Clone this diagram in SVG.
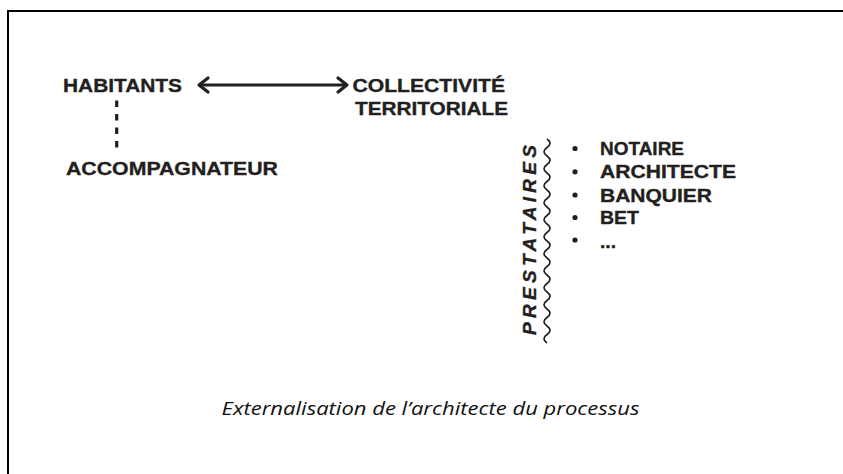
<svg xmlns="http://www.w3.org/2000/svg" width="843" height="474" viewBox="0 0 843 474">
<style>
.b{font-family:"Liberation Sans",Arial,Helvetica,sans-serif;font-weight:bold;font-size:19px;fill:#231f20;stroke:#231f20;stroke-width:0.35}
.cap{font-family:"Open Sans","Noto Sans","Liberation Sans",sans-serif;font-style:italic;font-size:18px;fill:#111}
.ln{stroke:#231f20;fill:none}
</style>
<rect width="843" height="474" fill="#fff"/>
<g id="frame"><path d="M8,474 V11 H843" fill="none" stroke="#000" stroke-width="2"/></g>
<g id="connectors">
<line class="ln" x1="200" y1="85" x2="346" y2="85" stroke-width="3"/>
<polyline class="ln" points="208,78 199,85 208,92" stroke-width="3.2" stroke-linecap="round" stroke-linejoin="round"/>
<polyline class="ln" points="338,78 347,85 338,92" stroke-width="3.2" stroke-linecap="round" stroke-linejoin="round"/>
<line class="ln" x1="116.7" y1="100.5" x2="116.7" y2="153" stroke-width="3.2" stroke-dasharray="6.5 7"/>
<path class="ln" stroke-width="1.7" d="M547,139 q6,4.25 0,8.5 t0,8.5 t0,8.5 t0,8.5 t0,8.5 t0,8.5 t0,8.5 t0,8.5 t0,8.5 t0,8.5 t0,8.5 t0,8.5 t0,8.5 t0,8.5 t0,8.5 t0,8.5 t0,8.5 t0,8.5 t0,8.5 t0,8.5 t0,8.5 t0,8.5 t0,8.5 t0,8.5"/>
</g>
<g id="habitants"><text class="b" x="63" y="91.5" textLength="119" lengthAdjust="spacingAndGlyphs">HABITANTS</text></g>
<g id="collectivite">
<text class="b" x="352.5" y="91.5" textLength="152.5" lengthAdjust="spacingAndGlyphs">COLLECTIVITÉ</text>
<text class="b" x="355" y="115" textLength="153" lengthAdjust="spacingAndGlyphs">TERRITORIALE</text>
</g>
<g id="accompagnateur"><text class="b" x="66" y="175" textLength="212" lengthAdjust="spacingAndGlyphs">ACCOMPAGNATEUR</text></g>
<g id="prestataires">
<text class="b" font-style="italic" font-size="19.5" transform="translate(535.5,335) rotate(-90)" textLength="190" lengthAdjust="spacing">PRESTATAIRES</text>
<g fill="#231f20">
<circle cx="575" cy="148.5" r="2.6"/>
<circle cx="575" cy="171.8" r="2.6"/>
<circle cx="575" cy="195" r="2.6"/>
<circle cx="575" cy="217.5" r="2.6"/>
<circle cx="575" cy="240" r="2.6"/>
</g>
<text class="b" x="600" y="155" textLength="84" lengthAdjust="spacingAndGlyphs">NOTAIRE</text>
<text class="b" x="600" y="178" textLength="136" lengthAdjust="spacingAndGlyphs">ARCHITECTE</text>
<text class="b" x="600" y="201.5" textLength="112" lengthAdjust="spacingAndGlyphs">BANQUIER</text>
<text class="b" x="600" y="223.5" textLength="39" lengthAdjust="spacingAndGlyphs">BET</text>
<text class="b" x="600" y="248" textLength="16" lengthAdjust="spacingAndGlyphs">...</text>
</g>
<g id="caption"><text class="cap" x="221.5" y="415" textLength="418" lengthAdjust="spacingAndGlyphs">Externalisation de l’architecte du processus</text></g>
</svg>
